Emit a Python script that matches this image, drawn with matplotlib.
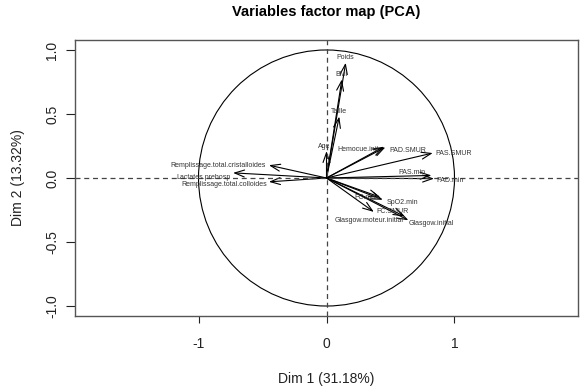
import numpy as np
import matplotlib
matplotlib.use("Agg")
import matplotlib.pyplot as plt
from matplotlib.patches import Circle, FancyArrowPatch

plt.rcParams['font.family'] = ['Liberation Sans', 'DejaVu Sans']

# coordonnees des variables sur les dimensions 1 et 2
variables = ['Poids', 'BMI', 'Taille', 'Age', 'Hemocue.init', 'PAD.SMUR', 'PAS.SMUR',
             'PAS.min', 'PAD.min', 'FC.max', 'SpO2.min', 'FC.SMUR',
             'Glasgow.moteur.initial', 'Glasgow.initial',
             'Remplissage.total.cristalloides', 'Lactates.prehosp', 'Remplissage.total.colloides']
dim1 = [0.15, 0.12, 0.10, 0.00, 0.45, 0.46, 0.83,
        0.82, 0.84, 0.42, 0.44, 0.37,
        0.61, 0.64,
        -0.45, -0.73, -0.45]
dim2 = [0.90, 0.77, 0.48, 0.21, 0.245, 0.24, 0.195,
        0.02, -0.005, -0.15, -0.17, -0.265,
        -0.30, -0.33,
        0.10, 0.04, -0.03]
inertie = [31.18, 13.32]

# placement des etiquettes: alignement + decalage (points)
lab_pos = {
    'Poids': ('center', 'bottom', 0, 1),
    'BMI': ('center', 'bottom', 0, 1),
    'Taille': ('center', 'bottom', 0, 1),
    'Age': ('center', 'bottom', -2, 1),
    'Hemocue.init': ('right', 'center', -4, -2),
    'PAD.SMUR': ('left', 'center', 3, -2),
    'PAS.SMUR': ('left', 'center', 2, 0),
    'PAS.min': ('right', 'center', -4, 2),
    'PAD.min': ('left', 'center', 2, -1),
    'FC.max': ('right', 'center', -1, 0),
    'SpO2.min': ('left', 'center', 3, -2),
    'FC.SMUR': ('left', 'center', 2, 0),
    'Glasgow.moteur.initial': ('right', 'center', -1, -3),
    'Glasgow.initial': ('left', 'center', 0, -2),
    'Remplissage.total.cristalloides': ('right', 'center', -2, 0),
    'Lactates.prehosp': ('right', 'center', -2, -3),
    'Remplissage.total.colloides': ('right', 'center', -1, -2),
}

fig = plt.figure(figsize=(5.85, 3.87), dpi=100)
ax = fig.add_axes([75/585, 71/387, 503/585, 276/387])
ax.set_xlim(-1.965, 1.965)
ax.set_ylim(-1.078, 1.078)

ax.axhline(0, color='#444444', lw=0.9, ls=(0, (4, 3)))
ax.axvline(0, color='#444444', lw=0.9, ls=(0, (4, 3)))
ax.add_patch(Circle((0, 0), 1, fill=False, color='black', lw=0.8))

for name, x, y in zip(variables, dim1, dim2):
    arr = FancyArrowPatch((0, 0), (x, y), arrowstyle='->,head_length=0.7,head_width=0.25',
                          mutation_scale=10, lw=0.8, color='black', shrinkA=0, shrinkB=0)
    ax.add_patch(arr)
    ha, va, dx, dy = lab_pos[name]
    ax.annotate(name, (x, y), xytext=(dx, dy), textcoords='offset points',
                ha=ha, va=va, fontsize=5, color='#333333')

ax.set_xticks([-1, 0, 1])
ax.set_xticklabels(['-1', '0', '1'])
ax.set_yticks([-1, -0.5, 0, 0.5, 1])
ax.set_yticklabels(['-1.0', '-0.5', '0.0', '0.5', '1.0'], rotation=90, va='center')
ax.tick_params(axis='x', length=5, width=0.8, pad=10, labelsize=10, colors='#222222')
ax.tick_params(axis='y', length=6.5, width=0.8, pad=5, labelsize=10, colors='#222222')
for s in ax.spines.values():
    s.set_color('#555555')
    s.set_linewidth(1)

ax.set_xlabel('Dim 1 (%.2f%%)' % inertie[0], fontsize=10, color='#222222', va='center')
ax.set_ylabel('Dim 2 (%.2f%%)' % inertie[1], fontsize=10, color='#222222', va='center')
ax.xaxis.set_label_coords(0.5, -(379 - 316) / 276)
ax.yaxis.set_label_coords(-(75 - 18) / 503, 0.5)

fig.text(326.5/585, 1 - 16/387, 'Variables factor map (PCA)', ha='center', va='baseline',
         fontsize=10.5, fontweight='bold')

fig.savefig('out.png', dpi=100)
